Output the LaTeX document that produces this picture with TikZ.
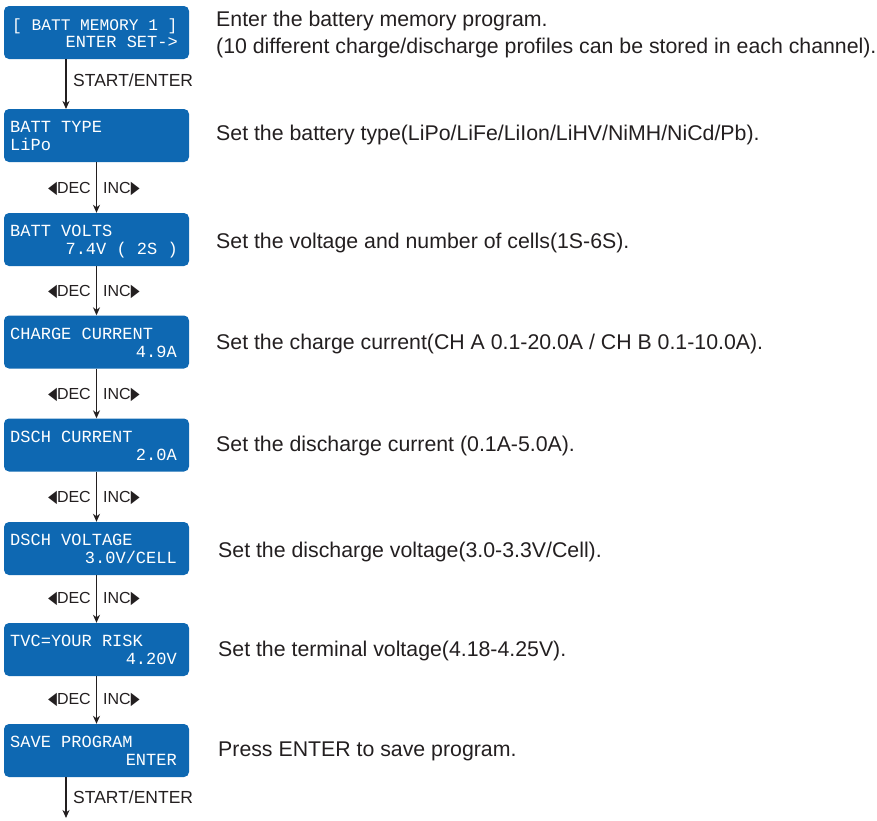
\documentclass[tikz,border=0pt]{standalone}
\usepackage{fontspec}
\setmainfont{Liberation Sans}
\newfontfamily\lcdfont{Liberation Mono}
\newfontfamily\symfont{DejaVu Sans}
\usetikzlibrary{arrows.meta,calc}
\definecolor{lcdblue}{RGB}{14,104,178}
\definecolor{ink}{RGB}{35,31,32}
\tikzset{
  lcd/.style={fill=lcdblue, rounded corners=5pt, minimum width=185pt, minimum height=53pt, inner sep=0pt},
  lcdtxt/.style={inner sep=0pt, text=white, text height=11pt, text depth=0pt, font=\lcdfont\fontsize{17}{18}\selectfont},
  lcdl/.style={lcdtxt, anchor=west},
  lcdr/.style={lcdtxt, anchor=east},
  desc/.style={anchor=west, inner sep=0pt, text=ink, text height=15pt, text depth=0pt, font=\fontsize{21.3}{27}\selectfont},
  lab/.style={inner sep=0pt, text=ink, text height=12pt, text depth=0pt, font=\fontsize{16}{18}\selectfont},
  biglab/.style={lab, anchor=west, font=\fontsize{17.5}{18}\selectfont},
  flow/.style={draw=ink, line width=1.3pt, -{Stealth[length=8pt,width=7pt,inset=2.5pt]}},
}
\newcommand{\lefttri}{{\symfont\scalebox{0.72}[1.1]{◀}}}
\newcommand{\righttri}{{\symfont\scalebox{0.72}[1.1]{▶}}}
\begin{document}
\begin{tikzpicture}[x=1pt,y=-1pt]
\useasboundingbox (0,0) rectangle (877,820);
% LCD boxes
\node[lcd] (b1) at (96.5,32.5) {};
\node[lcd] (b2) at (96.5,135.5) {};
\node[lcd] (b3) at (96.5,239.5) {};
\node[lcd] (b4) at (96.5,342) {};
\node[lcd] (b5) at (96.5,445) {};
\node[lcd] (b6) at (96.5,548.5) {};
\node[lcd] (b7) at (96.5,649.5) {};
\node[lcd] (b8) at (96.5,750.5) {};
% LCD texts
\node[lcdl, font=\lcdfont\fontsize{16.2}{18}\selectfont] (t1a) at (12,24.5) {[ BATT MEMORY 1 ]};
\node[lcdr] (t1b) at (178,41.5) {ENTER SET->};
\node[lcdl] (t2a) at (10,127) {BATT TYPE};
\node[lcdl] (t2b) at (10,145) {LiPo};
\node[lcdl] (t3a) at (10,231) {BATT VOLTS};
\node[lcdr] (t3b) at (178,249) {7.4V ( 2S )};
\node[lcdl] (t4a) at (10,333.5) {CHARGE CURRENT};
\node[lcdr] (t4b) at (177,351.5) {4.9A};
\node[lcdl] (t5a) at (10,436.5) {DSCH CURRENT};
\node[lcdr] (t5b) at (177,454.5) {2.0A};
\node[lcdl] (t6a) at (10,540) {DSCH VOLTAGE};
\node[lcdr] (t6b) at (177,558) {3.0V/CELL};
\node[lcdl] (t7a) at (10,641) {TVC=YOUR RISK};
\node[lcdr] (t7b) at (177,659) {4.20V};
\node[lcdl] (t8a) at (10,742) {SAVE PROGRAM};
\node[lcdr] (t8b) at (177,760) {ENTER};
% descriptions
\node[desc] (d1a) at (216,19) {Enter the battery memory program.};
\node[desc] (d1b) at (216,46) {(10 different charge/discharge profiles can be stored in each channel).};
\node[desc] (d2) at (216,133) {Set the battery type(LiPo/LiFe/LiIon/LiHV/NiMH/NiCd/Pb).};
\node[desc] (d3) at (216,241) {Set the voltage and number of cells(1S-6S).};
\node[desc] (d4) at (216,342) {Set the charge current(CH A 0.1-20.0A / CH B 0.1-10.0A).};
\node[desc] (d5) at (216,444) {Set the discharge current (0.1A-5.0A).};
\node[desc] (d6) at (218,550) {Set the discharge voltage(3.0-3.3V/Cell).};
\node[desc] (d7) at (218,649) {Set the terminal voltage(4.18-4.25V).};
\node[desc] (d8) at (218,749) {Press ENTER to save program.};
% connectors
\coordinate (s1top) at (66,59);
\coordinate (s1bot) at (66,109);
\coordinate (s2top) at (66,777);
\coordinate (end) at (66,818);
\draw[flow] (s1top) -- (s1bot);
\draw[flow] (b2) -- (b3);
\draw[flow] (b3) -- (b4);
\draw[flow] (b4) -- (b5);
\draw[flow] (b5) -- (b6);
\draw[flow] (b6) -- (b7);
\draw[flow] (b7) -- (b8);
\draw[flow] (s2top) -- (end);
% labels
\node[biglab] (s1) at (73,80) {START/ENTER};
\node[biglab] (s2) at (73,797) {START/ENTER};
\foreach \y/\n in {187/2, 290/3, 393/4, 496/5, 597/6, 698/7}{
  \node[lab, anchor=east] (dec\n) at (91,\y) {\lefttri DEC};
  \node[lab, anchor=west] (inc\n) at (103,\y) {INC\righttri};
}
\end{tikzpicture}
\end{document}
